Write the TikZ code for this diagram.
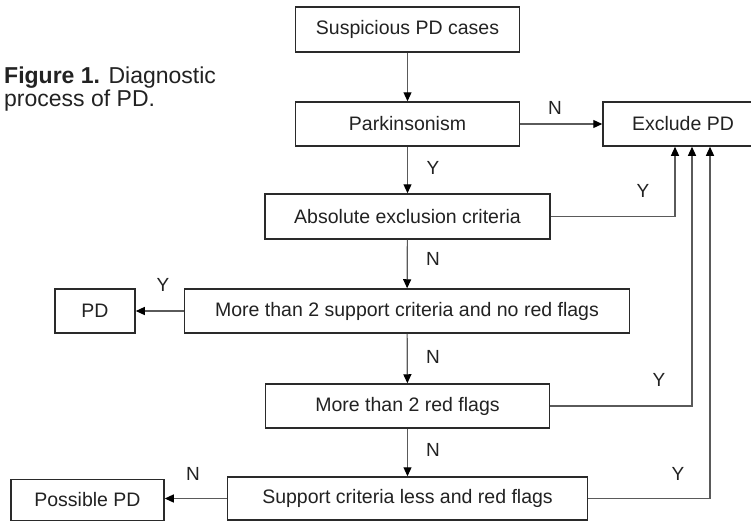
\documentclass[tikz,border=0pt]{standalone}
\usepackage{fontspec}
\setmainfont{Liberation Sans}
\usetikzlibrary{arrows.meta}
\definecolor{boxline}{HTML}{2A2A2A}
\definecolor{connline}{HTML}{5A5A5A}
\definecolor{txt}{HTML}{222222}
\tikzset{
  flowbox/.style={draw=boxline, line width=1.5pt, rectangle, inner sep=0pt, text=txt,
    font=\fontsize{19.5}{22}\selectfont},
  conn/.style={draw=connline, line width=1.2pt,
    -{Triangle[length=9pt,width=8pt,color=black]}},
  lbl/.style={text=txt, font=\fontsize{19}{22}\selectfont, inner sep=0pt},
  captxt/.style={text=txt, font=\fontsize{23}{26}\selectfont, inner sep=0pt, anchor=base west}
}
\begin{document}
\begin{tikzpicture}[x=1pt,y=-1pt]
\useasboundingbox (0,0) rectangle (751,522);
\clip (0,0) rectangle (751,522);
\fill[white] (0,0) rectangle (751,522);

% caption
\node[captxt] (cap1) at (4,83) {\textbf{Figure 1.} Diagnostic};
\node[captxt] (cap2) at (4,106) {process of PD.};

% boxes
\node[flowbox, minimum width=224pt, minimum height=45pt] (susp) at (407.5,29.5) {Suspicious PD cases};
\node[flowbox, minimum width=224pt, minimum height=44pt] (park) at (407.5,124) {Parkinsonism};
\node[flowbox, minimum width=160pt, minimum height=44pt] (excl) at (683,124) {Exclude PD};
\node[flowbox, minimum width=285pt, minimum height=45pt] (aec) at (407.5,216.5) {Absolute exclusion criteria};
\node[flowbox, minimum width=445pt, minimum height=44pt] (sup) at (407,311) {More than 2 support criteria and no red flags};
\node[flowbox, minimum width=80pt, minimum height=44pt] (pd) at (95,311) {PD};
\node[flowbox, minimum width=284pt, minimum height=44pt] (red) at (407.5,406) {More than 2 red flags};
\node[flowbox, minimum width=360pt, minimum height=43pt] (less) at (407.5,498.5) {Support criteria less and red flags};
\node[flowbox, minimum width=153pt, minimum height=41pt] (poss) at (87.5,500) {Possible PD};

% main column
\draw[conn] (susp) -- (park);
\draw[conn] (park) -- (aec);
\draw[conn] (aec) -- (sup);
\draw[conn] (sup) -- (red);
\draw[conn] (red) -- (less);

% side branches
\draw[conn] (park) -- (excl);
\draw[conn] (sup) -- (pd);
\draw[conn] (less.west) -- (less.west -| poss.east);

% right returns
\draw[conn] (aec.east) -| ([xshift=-8pt]excl.south);
\draw[conn] (red.east) -| ([xshift=9pt]excl.south);
\draw[conn] (less.east) -| ([xshift=27pt]excl.south);

% labels
\node[lbl] (l1) at (555,108) {N};
\node[lbl] (l2) at (433,168) {Y};
\node[lbl] (l3) at (643,191) {Y};
\node[lbl] (l4) at (433,259) {N};
\node[lbl] (l5) at (163,285) {Y};
\node[lbl] (l6) at (433,357) {N};
\node[lbl] (l7) at (659,380) {Y};
\node[lbl] (l8) at (433,450) {N};
\node[lbl] (l9) at (678,474) {Y};
\node[lbl] (l10) at (193,474) {N};
\end{tikzpicture}
\end{document}
